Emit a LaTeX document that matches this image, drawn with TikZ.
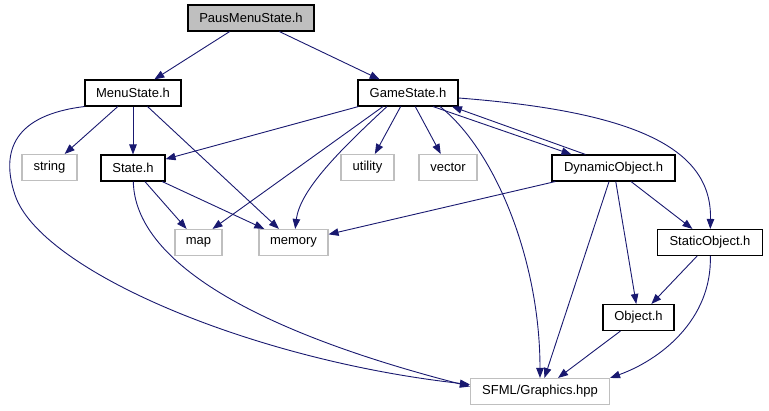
\documentclass[tikz,border=0pt]{standalone}
\usepackage{fontspec}
\setmainfont{Liberation Sans}
\usetikzlibrary{arrows.meta}
\definecolor{edgeblue}{RGB}{25,25,112}
\definecolor{extgray}{RGB}{191,191,191}
\definecolor{rootgray}{RGB}{191,191,191}

\begin{document}
\begin{tikzpicture}[
    x=1pt, y=-1pt,
    font=\fontsize{13}{15}\selectfont,
    file/.style={draw=black, line width=1.1pt, fill=white, minimum height=26pt, inner sep=0pt},
    root/.style={file, fill=rootgray},
    sysfile/.style={draw=extgray, line width=1.1pt, fill=white, minimum height=26pt, inner sep=0pt},
    dep/.style={draw=edgeblue, line width=0.9pt, -{Triangle[length=10pt,width=7.5pt]}}
]
\useasboundingbox (0,0) rectangle (769,411);

\node[root, minimum width=126pt] (paus) at (251,18) {PausMenuState.h};
\node[file, minimum width=96pt] (menu) at (133,93) {MenuState.h};
\node[file, minimum width=100pt] (game) at (408,93) {GameState.h};
\node[sysfile, minimum width=55pt] (string) at (49.5,167.5) {string};
\node[file, minimum width=64pt] (state) at (133,168) {State.h};
\node[sysfile, minimum width=53pt] (utility) at (367.5,167.5) {utility};
\node[sysfile, minimum width=58pt] (vector) at (448,167.5) {vector};
\node[file, minimum width=123pt] (dyn) at (613.5,168) {DynamicObject.h};
\node[sysfile, minimum width=47pt] (map) at (198.5,242.5) {map};
\node[sysfile, minimum width=69pt] (memory) at (293.5,242.5) {memory};
\node[file, minimum width=105pt] (static) at (710,242.5) {StaticObject.h};
\node[file, minimum width=71pt] (object) at (638.5,317.5) {Object.h};
\node[sysfile, minimum width=139pt] (sfml) at (540,391.5) {SFML/Graphics.hpp};

\foreach \a/\b in {paus/menu, paus/game, menu/string, menu/state, menu/memory,
    game/state, game/utility, game/vector, state/map, state/memory,
    dyn/memory, dyn/sfml, dyn/object, dyn/static, static/object, object/sfml}
  \draw[dep] (\a) -- (\b);

% curved and offset includes
\draw[dep] (menu.south west) .. controls (15,115) and (0,150) .. (15,195)
    .. controls (40,270) and (250,360) .. ([yshift=7pt]sfml.west);
\draw[dep] (state) .. controls (135,260) and (250,330) .. ([yshift=5pt]sfml.west);
\draw[dep] ([xshift=-21pt]game.south) .. controls (340,150) and (300,190) .. (memory);
\draw[dep] ([xshift=-25pt]game.south) -- ([xshift=14pt]map.north);
\draw[dep] ([xshift=32pt]game.south) .. controls (495,150) and (540,260) .. (sfml);
\draw[dep] ([xshift=25pt]game.south) -- ([xshift=-42pt]dyn.north);
\draw[dep] ([xshift=-28pt]dyn.north) -- ([xshift=44pt]game.south);
\draw[dep] ([yshift=-5pt]game.east) .. controls (640,112) and (712,150) .. (static);
\draw[dep] (static) .. controls (712,320) and (660,360) .. (sfml.north east);
\end{tikzpicture}
\end{document}
